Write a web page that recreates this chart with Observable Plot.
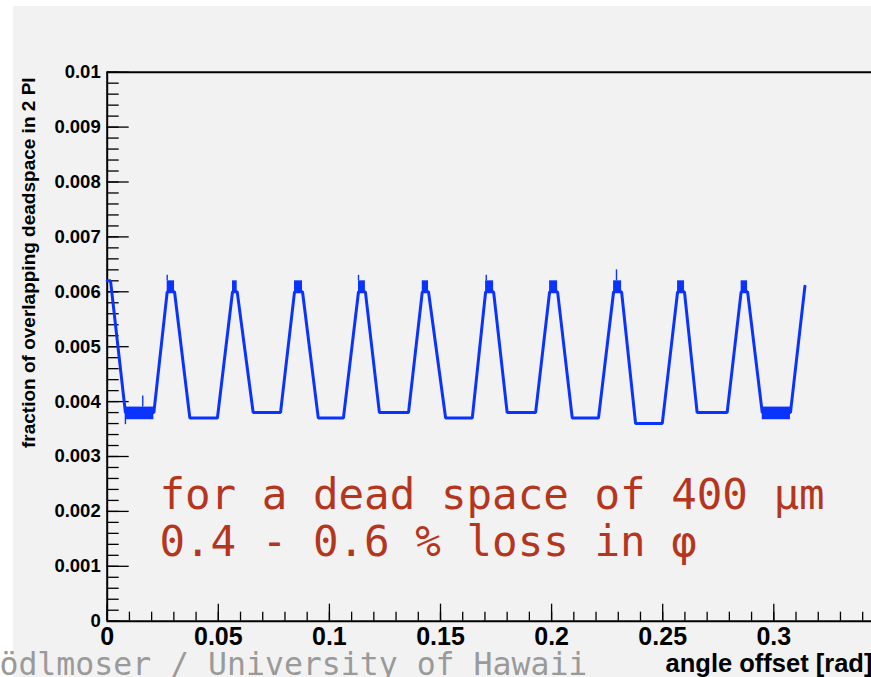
<!DOCTYPE html>
<html><head><meta charset="utf-8">
<script src="https://cdn.jsdelivr.net/npm/d3@7"></script>
<script src="https://cdn.jsdelivr.net/npm/@observablehq/plot@0.6"></script>
<style>
html,body{margin:0;padding:0;background:#fff;}
#wrap{position:relative;width:871px;height:677px;overflow:hidden;}
#bg{position:absolute;left:13px;top:6px;right:0;bottom:0;background:#f2f2f2;}
#chart{position:absolute;left:0;top:0;}
</style></head><body>
<div id="wrap"><div id="bg"></div><div id="chart"></div></div>
<script>
// ---- data ----
const angle = [0, 0.0015, 0.0082, 0.0210, 0.0270, 0.0303, 0.0372, 0.0496, 0.0564, 0.0585,
  0.0657, 0.0780, 0.0843, 0.0879, 0.0950, 0.1063, 0.1131, 0.1162, 0.1225, 0.1356,
  0.1418, 0.1446, 0.1523, 0.1643, 0.1703, 0.1739, 0.1800, 0.1928, 0.1991, 0.2027,
  0.2093, 0.2211, 0.2279, 0.2315, 0.2378, 0.2498, 0.2567, 0.2598, 0.2655, 0.2790,
  0.2853, 0.2882, 0.2948, 0.3075, 0.3140];
const fraction = [0.0062, 0.0062, 0.0038, 0.0038, 0.0060, 0.0060, 0.0037, 0.0037, 0.0060, 0.0060,
  0.0038, 0.0038, 0.0060, 0.0060, 0.0037, 0.0037, 0.0060, 0.0060, 0.0038, 0.0038,
  0.0060, 0.0060, 0.0037, 0.0037, 0.0060, 0.0060, 0.0038, 0.0038, 0.0060, 0.0060,
  0.0037, 0.0037, 0.0060, 0.0060, 0.0036, 0.0036, 0.0060, 0.0060, 0.0038, 0.0038,
  0.0060, 0.0060, 0.0038, 0.0038, 0.0061];

// densely oscillating regions (peaks and first/last trough)
const blockX1 = [0.0270, 0.0564, 0.0843, 0.1131, 0.1418, 0.1703, 0.1991, 0.2279, 0.2567, 0.2853, 0.0082, 0.2948];
const blockX2 = [0.0303, 0.0585, 0.0879, 0.1162, 0.1446, 0.1739, 0.2027, 0.2315, 0.2598, 0.2882, 0.0210, 0.3075];
const blockLow  = [0.0060, 0.0060, 0.0060, 0.0060, 0.0060, 0.0060, 0.0060, 0.0060, 0.0060, 0.0060, 0.00367, 0.00367];
const blockHigh = [0.0062, 0.0062, 0.0062, 0.0062, 0.0062, 0.0062, 0.0062, 0.0062, 0.0062, 0.0062, 0.0039, 0.0039];

// thin single-bin spikes
const spikeX    = [0.0082, 0.0160, 0.0270, 0.1131, 0.1706, 0.2292];
const spikeLow  = [0.00358, 0.0039, 0.0062, 0.0062, 0.0062, 0.0062];
const spikeHigh = [0.0038, 0.0041, 0.0063, 0.0063, 0.0063, 0.0064];

const yTicks = [0, 0.001, 0.002, 0.003, 0.004, 0.005, 0.006, 0.007, 0.008, 0.009, 0.01];
const yTickLabels = ["0", "0.001", "0.002", "0.003", "0.004", "0.005", "0.006", "0.007", "0.008", "0.009", "0.01"];
const xTicks = [0, 0.05, 0.1, 0.15, 0.2, 0.25, 0.3, 0.35];
const xLabelTicks = [0, 0.05, 0.1, 0.15, 0.2, 0.25, 0.3];
const xTickLabels = ["0", "0.05", "0.1", "0.15", "0.2", "0.25", "0.3"];
const yMinor = d3.range(0, 0.01001, 0.0002);
const xMinor = d3.range(0, 0.3501, 0.01);

const xTitle = "angle offset [rad]";
const yTitle = "fraction of overlapping deadspace in 2 PI";
const noteLines = ["for a dead space of 400 µm", "0.4 - 0.6 % loss in φ"];
const footer = "ödlmoser / University of Hawaii";

// ---- build tables ----
const points = angle.map((a, i) => ({a, f: fraction[i]}));
const blocks = blockX1.map((x1, i) => ({x1, x2: blockX2[i], y1: blockLow[i], y2: blockHigh[i]}));
const spikes = spikeX.map((x, i) => ({x, y1: spikeLow[i], y2: spikeHigh[i]}));

const blue = "#0b33ff";
const red = "#b5361e";
const mono = "'DejaVu Sans Mono', monospace";

const chart = Plot.plot({
  width: 871, height: 677,
  marginLeft: 106.7, marginRight: 0, marginTop: 71.7, marginBottom: 56.3,
  style: {background: "transparent", fontFamily: "'Liberation Sans', Arial, sans-serif"},
  x: {domain: [0, 0.35], range: [106.7, 884.4]},
  y: {domain: [0, 0.01], range: [620.7, 71.7]},
  marks: [
    // ticks (inside the frame, ROOT style)
    Plot.ruleY(yMinor, {x1: 0, x2: 0.0054, stroke: "#000", strokeWidth: 1.3}),
    Plot.ruleY(yTicks, {x1: 0, x2: 0.0099, stroke: "#000", strokeWidth: 1.3}),
    Plot.ruleX(xMinor, {y1: 0, y2: 0.000164, stroke: "#000", strokeWidth: 1.3}),
    Plot.ruleX(xTicks, {y1: 0, y2: 0.00031, stroke: "#000", strokeWidth: 1.3}),
    // frame
    Plot.ruleY([0, 0.01], {stroke: "#000", strokeWidth: 2}),
    Plot.ruleX([0], {stroke: "#000", strokeWidth: 2}),
    // axes labels
    Plot.axisY({ticks: yTicks, tickSize: 0, tickPadding: 6.5, fontSize: 18.5, fontWeight: "bold",
      tickFormat: d => yTickLabels[yTicks.indexOf(d)], label: null}),
    Plot.axisX({ticks: xLabelTicks, tickSize: 0, tickPadding: 6.5, fontSize: 25, fontWeight: "bold",
      tickFormat: d => xTickLabels[xLabelTicks.indexOf(d)], label: null}),
    // data
    Plot.rect(blocks, {x1: "x1", x2: "x2", y1: "y1", y2: "y2", fill: blue}),
    Plot.ruleX(spikes, {x: "x", y1: "y1", y2: "y2", stroke: blue, strokeWidth: 1.4}),
    Plot.line(points, {x: "a", y: "f", stroke: blue, strokeWidth: 3, strokeLinejoin: "miter"}),
    // titles
    Plot.text([xTitle], {x: 0.2513, y: 0, dy: 50.7, text: d => d, textAnchor: "start", lineAnchor: "bottom",
      fontSize: 25.5, fontWeight: "bold", fill: "#000"}),
    Plot.text([yTitle], {x: -0.0327, y: 0.00653, text: d => d, rotate: -90, textAnchor: "middle", lineAnchor: "bottom",
      fontSize: 19, fontWeight: "bold", fill: "#000"}),
    // annotation
    Plot.text([noteLines[0]], {x: 0.0235, y: 0.00205, text: d => d, textAnchor: "start", lineAnchor: "bottom",
      fontSize: 42.5, fontFamily: mono, fill: red}),
    Plot.text([noteLines[1]], {x: 0.0235, y: 0.00118, text: d => d, textAnchor: "start", lineAnchor: "bottom",
      fontSize: 42.5, fontFamily: mono, fill: red}),
    // footer
    Plot.text([footer], {x: -0.0485, y: 0, dy: 53.3, text: d => d, textAnchor: "start", lineAnchor: "bottom",
      fontSize: 31.5, fontFamily: mono, fill: "#9a9a9a"})
  ]
});
document.getElementById("chart").appendChild(chart);
</script>
</body></html>
